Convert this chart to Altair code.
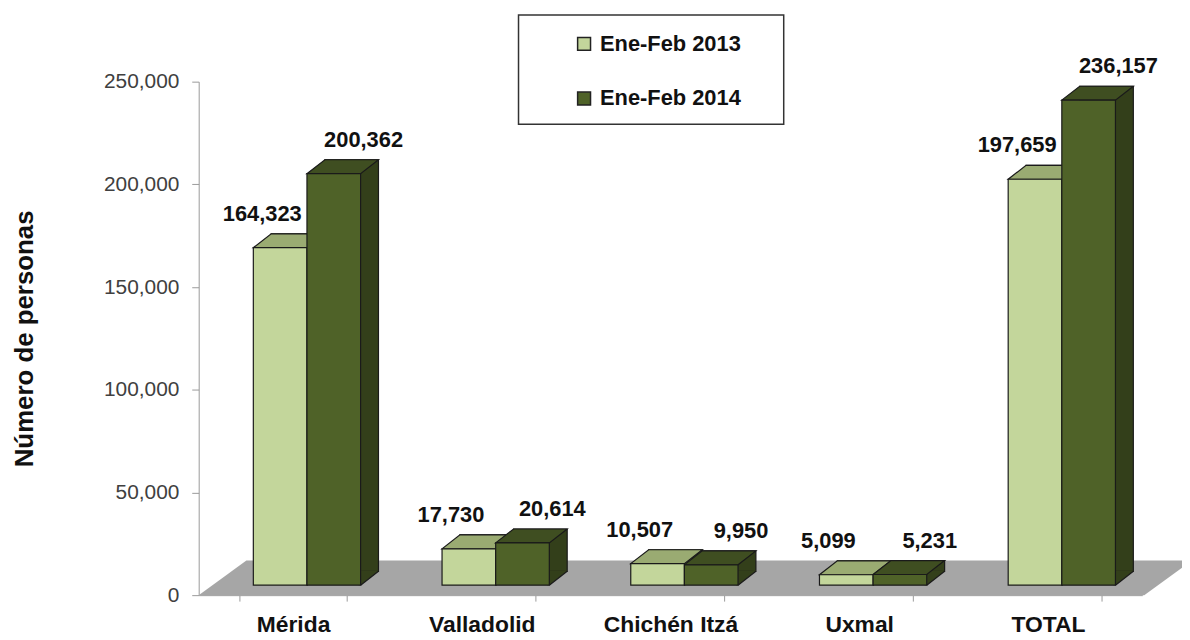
import altair as alt
import pandas as pd

# ---- data -------------------------------------------------------------
categorias = ["Mérida", "Valladolid", "Chichén Itzá", "Uxmal", "TOTAL"]
series = ["Ene-Feb 2013", "Ene-Feb 2014"]
valores_2013 = [164323, 17730, 10507, 5099, 197659]
valores_2014 = [200362, 20614, 9950, 5231, 236157]
y_ticks = [0, 50000, 100000, 150000, 200000, 250000]

rows = []
for c, a, b in zip(categorias, valores_2013, valores_2014):
    rows.append({"lugar": c, "serie": series[0], "valor": a, "base": 0})
    rows.append({"lugar": c, "serie": series[1], "valor": b, "base": 0})
df = pd.DataFrame(rows)
one = pd.DataFrame({"k": [0]})

# ---- style ------------------------------------------------------------
W, H = 950, 517
STEP = W / len(categorias)
BAND = 108                # width of the pair of bars
FONT = "Liberation Sans"
DX, DY = 14, -10          # bars sit a little back on the floor
HALF = 27                 # half bar width (px)
DEPX, DEPY = 18, 14       # 3D depth
EDGE = "#1a1a1a"
SW = 1.2
FRONT = ["#c3d69b", "#4f6228"]
TOP = ["#9aab72", "#3f4e21"]
SIDE = ["#7d8f55", "#333f1a"]

def by_serie(cols):
    return alt.condition(alt.datum.serie == series[0], alt.value(cols[0]), alt.value(cols[1]))

pin = 1 - BAND / STEP
x_enc = alt.X(
    "lugar:N", sort=categorias,
    scale=alt.Scale(paddingInner=pin, paddingOuter=pin / 2),
    axis=alt.Axis(title=None, labelFont=FONT, labelFontSize=23, labelFontWeight="bold",
                  labelColor="#111111", labelAngle=0, tickBand="extent", tickSize=6,
                  tickColor="#9a9a9a", domainColor="#9a9a9a", labelPadding=13, grid=False),
)

def xoff_band(shift):
    return alt.XOffset("serie:N", sort=series,
                       scale=alt.Scale(type="band", domain=series, range=[shift, shift + BAND],
                                       paddingInner=0, paddingOuter=0))

def xoff_pt(shift):
    return alt.XOffset("serie:N", sort=series,
                       scale=alt.Scale(type="point", domain=series, range=[shift, shift + BAND],
                                       padding=0.5))

y_axis = alt.Axis(values=y_ticks, labelExpr="format(datum.value, ',')", labelFont=FONT,
                  labelFontSize=21, labelColor="#404040", labelPadding=13, tickSize=7,
                  tickColor="#9a9a9a", domainColor="#9a9a9a", grid=False,
                  title="Número de personas", titleFont=FONT, titleFontSize=26,
                  titleFontWeight="bold", titleColor="#111111", titleX=-175,
                  titleBaseline="middle")
y_scale = alt.Scale(domain=[0, 250000], nice=False)
y_enc = alt.Y("valor:Q", scale=y_scale, axis=y_axis)
y_base = alt.Y("base:Q", scale=y_scale, axis=y_axis)

# floor (decoration)
floor_path = "M0,0 L952,0 L1000,-35 L48,-35 Z"
floor = alt.Chart(one).mark_point(shape=floor_path, size=4, filled=True, fill="#a6a6a6",
                                  opacity=1, strokeWidth=0).encode(
    x=alt.value(0), y=alt.value(H))

legend_box = alt.Chart(one).mark_rect(fill="white", stroke="#333333", strokeWidth=1.5).encode(
    x=alt.value(322), x2=alt.value(589), y=alt.value(-67), y2=alt.value(43))

# back copy of each bar -> visible as side face
back = alt.Chart(df).mark_bar(
    yOffset=DY - DEPY, y2Offset=DY - DEPY, stroke=EDGE, strokeWidth=SW
).encode(x=x_enc, xOffset=xoff_band(DX + DEPX), y=y_enc, fill=by_serie(SIDE))

side_fill_path = (f"M{HALF-2},0 L{HALF},0 L{HALF+DEPX},-{DEPY} "
                  f"L{HALF+DEPX},-{DEPY+0.7} L{HALF-2},-{DEPY+0.7} Z")
side_fill = alt.Chart(df).mark_point(
    shape=side_fill_path, size=4, filled=True, opacity=1, strokeWidth=0, yOffset=DY
).encode(x=x_enc, xOffset=xoff_pt(DX), y=y_base, fill=by_serie(SIDE))

diag_path = f"M{HALF},0 L{HALF+DEPX},-{DEPY}"
side_diag = alt.Chart(df).mark_point(
    shape=diag_path, size=4, filled=False, opacity=1, stroke=EDGE, strokeWidth=SW, yOffset=DY
).encode(x=x_enc, xOffset=xoff_pt(DX), y=y_base)

top_path = f"M-{HALF},0 L{HALF},0 L{HALF+DEPX},-{DEPY} L{-HALF+DEPX},-{DEPY} Z"
top = alt.Chart(df).mark_point(
    shape=top_path, size=4, filled=True, opacity=1, stroke=EDGE, strokeWidth=SW, yOffset=DY
).encode(x=x_enc, xOffset=xoff_pt(DX), y=y_enc, fill=by_serie(TOP))

front = alt.Chart(df).mark_bar(
    yOffset=DY, y2Offset=DY, stroke=EDGE, strokeWidth=SW
).encode(
    x=x_enc, xOffset=xoff_band(DX), y=y_enc,
    fill=alt.Fill("serie:N", sort=series,
                  scale=alt.Scale(domain=series, range=FRONT),
                  legend=alt.Legend(orient="none", legendX=377, legendY=-49, title=None,
                                    symbolType="square", symbolSize=169,
                                    symbolStrokeColor="#222222", symbolStrokeWidth=1.5,
                                    symbolOpacity=1, labelFont=FONT, labelFontSize=22,
                                    labelFontWeight="bold", labelColor="#111111",
                                    rowPadding=33, labelOffset=5, padding=0)),
)

def labels(serie, dx):
    return alt.Chart(df).transform_filter(alt.datum.serie == serie).mark_text(
        dx=dx, dy=-44, font=FONT, fontSize=22, fontWeight="bold", color="#111111",
        baseline="middle", align="center"
    ).encode(x=x_enc, xOffset=xoff_pt(0), y=y_enc, text=alt.Text("valor:Q", format=","))

chart = alt.layer(
    floor, legend_box, back, side_fill, side_diag, top, front,
    labels(series[0], -4), labels(series[1], 44)
).resolve_scale(xOffset="independent").properties(
    width=W, height=H,
    padding={"left": 192, "top": 72, "right": 40, "bottom": 43},
    autosize=alt.AutoSizeParams(type="none"),
    background="white",
).configure_view(stroke=None)

chart.save("out.html", embed_options={"renderer": "svg", "actions": False})
